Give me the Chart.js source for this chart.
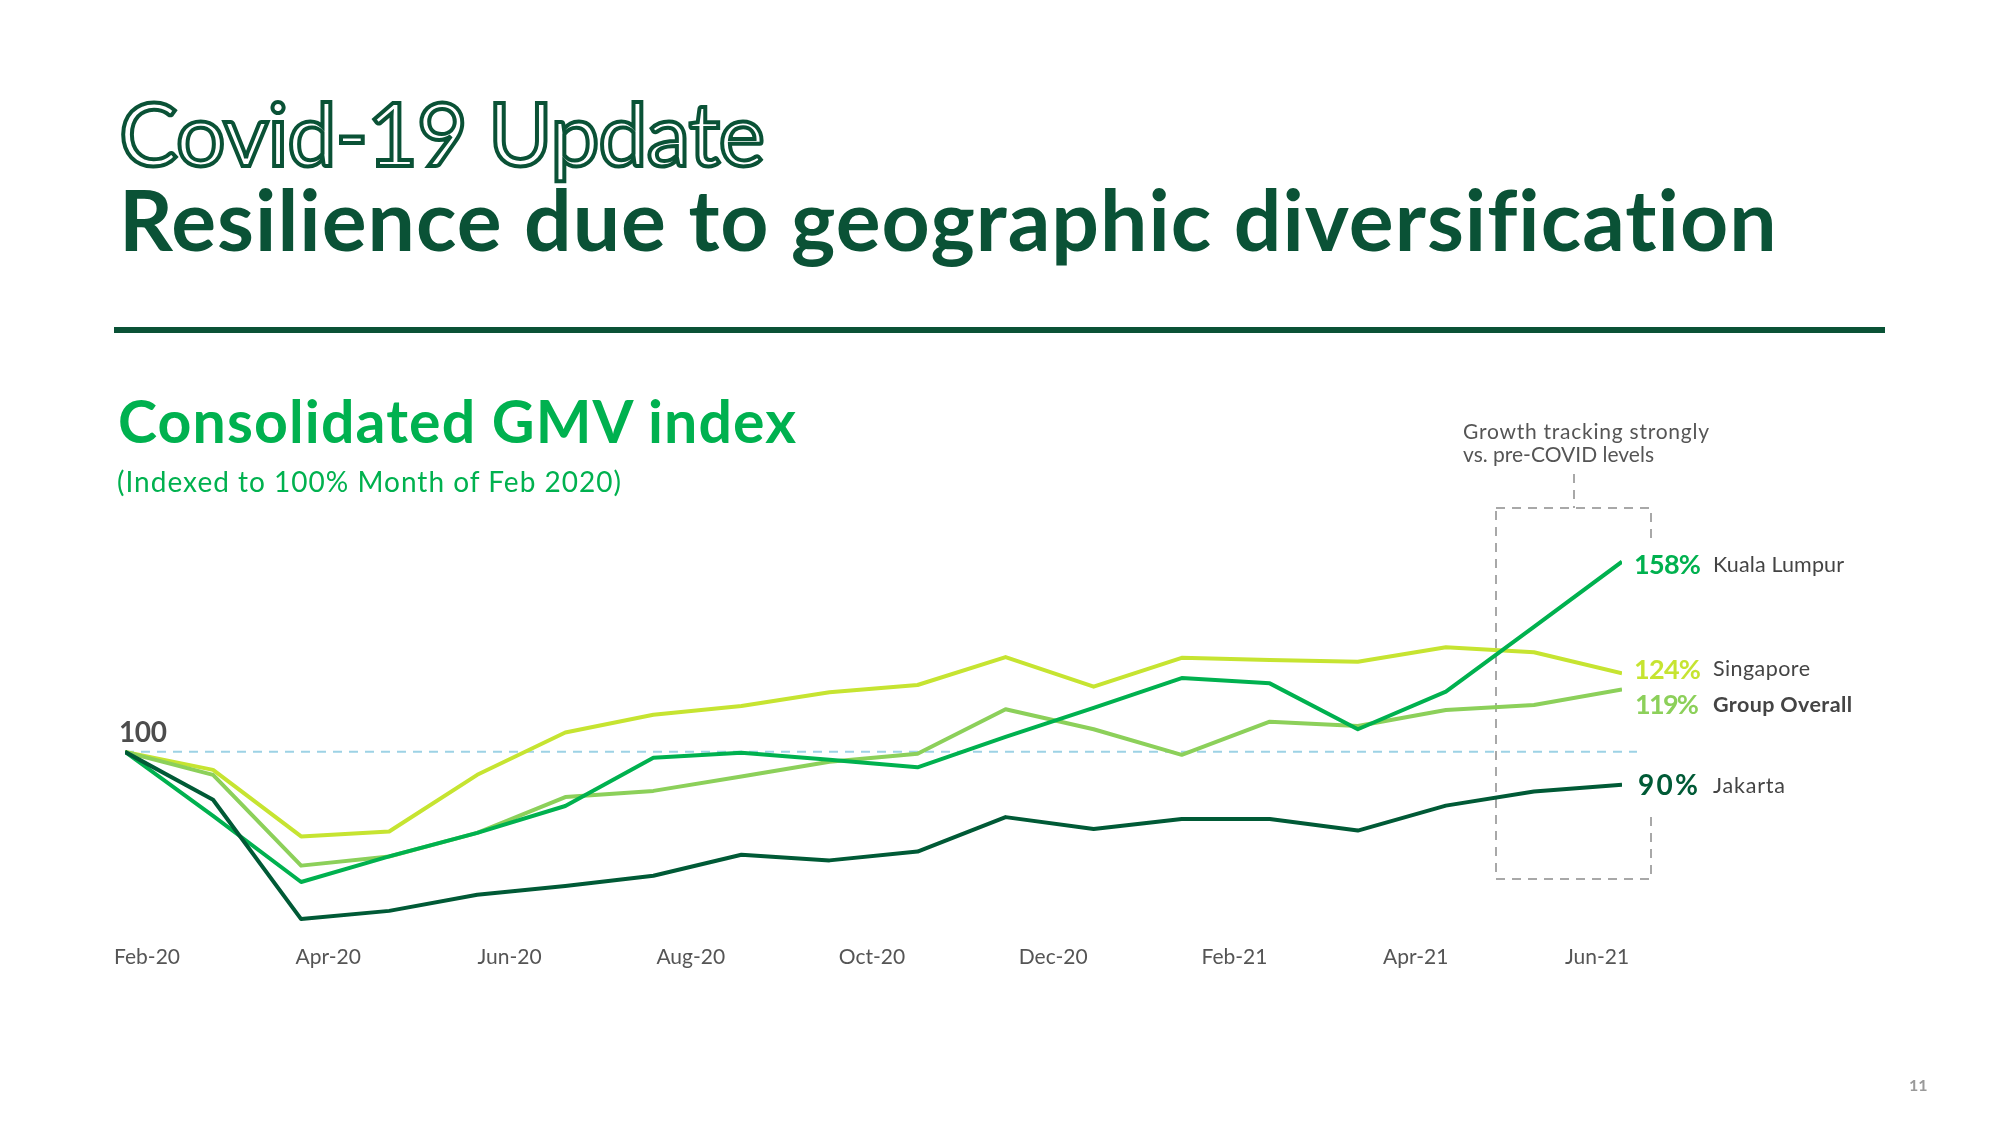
<!DOCTYPE html>
<html><head><meta charset="utf-8">
<script src="https://cdn.jsdelivr.net/npm/chart.js@4.4.1/dist/chart.umd.min.js"></script>
<style>
html,body{margin:0;padding:0;background:#fff;}
#page{position:relative;width:2000px;height:1122px;overflow:hidden;font-family:Lato,"Open Sans",sans-serif;background:#fff;}
.t{position:absolute;white-space:nowrap;line-height:1.2;left:0;top:0;}
#ov,#c{position:absolute;left:0;top:0;}
</style></head><body>
<div id="page">
<svg id="ov" width="2000" height="1122">
  <g stroke="#A8A8A8" stroke-width="2" stroke-dasharray="9 7" fill="none">
    <rect x="1496" y="508" width="155" height="371"/>
    <line x1="1574" y1="474" x2="1574" y2="508"/>
  </g>
  <rect x="1640" y="540" width="22" height="270" fill="#fff"/>
  <rect x="114" y="327" width="1771" height="6" fill="#0A5236"/>
</svg>
<canvas id="c" width="2000" height="1122"></canvas>
<div class="t" id="t1" style="font-size:88px;font-weight:400;color:#fff;-webkit-text-stroke:4px #0A5236;">Covid-19 Update</div>
<div class="t" id="t2" style="font-size:84px;font-weight:700;color:#0A5236;">Resilience due to geographic diversification</div>
<div class="t" id="t3" style="font-size:59px;font-weight:700;color:#00B14F;">Consolidated GMV index</div>
<div class="t" id="t4" style="font-size:28px;font-weight:400;color:#00B14F;">(Indexed to 100% Month of Feb 2020)</div>
<div class="t" id="t5" style="font-size:28px;font-weight:700;color:#4d4d4d;">100</div>
<div class="t" id="a1" style="font-size:21px;color:#555;">Growth tracking strongly</div>
<div class="t" id="a2" style="font-size:21px;color:#555;">vs. pre-COVID levels</div>
<div class="t" id="p1" style="font-size:27px;font-weight:700;color:#00B14F;">158%</div>
<div class="t" id="n1" style="font-size:21.5px;color:#444;">Kuala Lumpur</div>
<div class="t" id="p2" style="font-size:27px;font-weight:700;color:#C6E431;">124%</div>
<div class="t" id="n2" style="font-size:21.5px;color:#444;">Singapore</div>
<div class="t" id="p3" style="font-size:27px;font-weight:700;color:#8CD05A;">119%</div>
<div class="t" id="n3" style="font-size:21.5px;font-weight:700;color:#444;">Group Overall</div>
<div class="t" id="p4" style="font-size:28px;font-weight:700;color:#005A36;">90%</div>
<div class="t" id="n4" style="font-size:21.5px;color:#444;">Jakarta</div>
<div class="t" id="pg" style="font-size:16px;font-weight:700;color:#9a9a9a;">11</div>
</div>
<script>
// ---- data ----
const tickLabels = ['Feb-20','Apr-20','Jun-20','Aug-20','Oct-20','Dec-20','Feb-21','Apr-21','Jun-21'];
const kualaLumpur  = [100, 80.5, 60.3, 68.1, 75.3, 83.5, 98.2, 99.7, 97.6, 95.3, 104.6, 113.4, 122.5, 120.9, 106.9, 118.4, 138.1, 158];
const singapore    = [100, 94.5, 74.2, 75.7, 93.0, 105.9, 111.3, 114.0, 118.2, 120.4, 128.9, 119.9, 128.7, 128.0, 127.5, 131.9, 130.4, 124];
const groupOverall = [100, 93.0, 65.3, 68.1, 75.3, 86.2, 88.1, 92.5, 97.0, 99.4, 113.0, 106.9, 99.1, 109.2, 107.9, 112.8, 114.3, 119];
const jakarta      = [100, 85.4, 49.0, 51.5, 56.4, 59.1, 62.2, 68.6, 66.9, 69.6, 80.1, 76.5, 79.5, 79.5, 76.0, 83.6, 87.9, 90];
const baseline = 100;

const pts = arr => arr.map((v, i) => ({x: i, y: v}));

const baselinePlugin = {
  id: 'baseline',
  beforeDatasetsDraw(chart) {
    const {ctx, scales, chartArea} = chart;
    const y = scales.y.getPixelForValue(baseline);
    ctx.save();
    ctx.strokeStyle = '#9DD2E5';
    ctx.lineWidth = 2;
    ctx.setLineDash([9, 7]);
    ctx.beginPath();
    ctx.moveTo(scales.x.getPixelForValue(0), y);
    ctx.lineTo(chartArea.right + 15, y);
    ctx.stroke();
    ctx.restore();
  }
};

const ds = (label, data, color) => ({
  label, data: pts(data), borderColor: color, borderWidth: 4,
  pointRadius: 0, tension: 0, fill: false, borderJoinStyle: 'round', xAxisID: 'x', yAxisID: 'y'
});

new Chart(document.getElementById('c'), {
  type: 'line',
  data: {
    datasets: [
      ds('Jakarta', jakarta, '#005A36'),
      ds('Kuala Lumpur', kualaLumpur, '#00B14F'),
      ds('Group Overall', groupOverall, '#8CD05A'),
      ds('Singapore', singapore, '#C6E431')
    ]
  },
  options: {
    responsive: false, animation: false, devicePixelRatio: 1,
    layout: { padding: { left: 125, right: 378, top: 480, bottom: 142 } },
    plugins: { legend: { display: false }, tooltip: { enabled: false } },
    scales: {
      x: { type: 'linear', min: 0, max: 17, display: false },
      y: { type: 'linear', min: 44.2, max: 182.93, display: false },
      x2: {
        type: 'linear', position: 'bottom', min: -0.243, max: 16.276,
        grid: { display: false, drawTicks: false }, border: { display: false },
        afterBuildTicks: axis => { axis.ticks = tickLabels.map((_, i) => ({ value: i * 2 })); },
        ticks: {
          callback: v => tickLabels[v / 2], autoSkip: false, maxRotation: 0,
          font: { family: 'Lato', size: 21 }, color: '#555', padding: 10
        }
      }
    }
  },
  plugins: [baselinePlugin]
});

// ---- text placement by baseline ----
function place(id, x, base, w) {
  const el = document.getElementById(id);
  const m = document.createElement('span');
  m.style.cssText = 'display:inline-block;width:0;height:0;vertical-align:baseline';
  el.appendChild(m);
  el.style.left = x + 'px';
  if (w) {
    const n = el.textContent.length;
    const cur = el.getBoundingClientRect().width;
    el.style.letterSpacing = ((w - cur) / Math.max(1, n - 1)) + 'px';
  }
  el.style.top = (base - m.offsetTop) + 'px';
}
place('t1', 119, 166, 646);
place('t2', 119, 251, 1658);
place('t3', 118, 443, 678);
place('t4', 117, 492, 504);
place('t5', 119, 742, 48);
place('a1', 1463, 439, 246);
place('a2', 1463, 462);
place('p1', 1634, 574, 67);
place('n1', 1713, 572, 131);
place('p2', 1634, 679, 67);
place('p3', 1635, 714, 64);
place('n2', 1713, 676, 97);
place('n3', 1713, 712, 139);
place('p4', 1638, 795, 60);
place('n4', 1713, 793, 72);
place('pg', 1909, 1091);
</script>
</body></html>
